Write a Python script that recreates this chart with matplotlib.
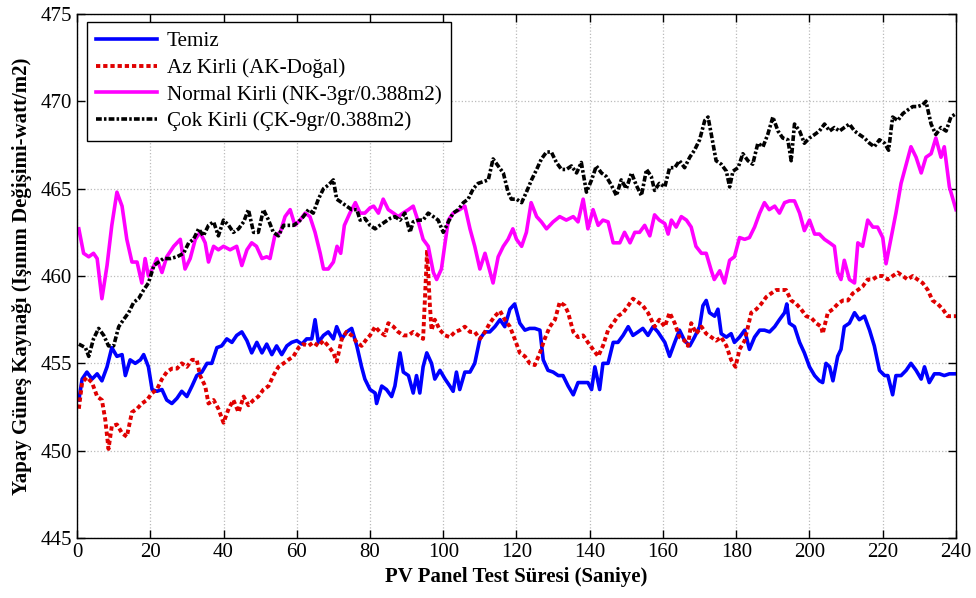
import matplotlib
matplotlib.use("Agg")
from matplotlib import pyplot as plt

# Readings: (time s, irradiance W/m2)
temiz = [(0.5, 452.9), (1.4, 454.1), (2.7, 454.5), (4.1, 454.1), (5.5, 454.4), (6.8, 454.0), (8.2, 454.8),
         (9.5, 455.9), (10.9, 455.4), (12.3, 455.5), (13.2, 454.3), (14.5, 455.2), (15.9, 455.0), (17.3, 455.2),
         (18.2, 455.5), (19.5, 454.8), (20.5, 453.5), (21.8, 453.4), (23.2, 453.5), (24.5, 452.9), (25.9, 452.7),
         (27.3, 453.0), (28.6, 453.4), (30.0, 453.1), (31.4, 453.7), (32.7, 454.3), (34.1, 454.5), (35.5, 455.0),
         (36.8, 455.0), (38.2, 455.9), (39.5, 456.0), (40.9, 456.4), (42.3, 456.2), (43.6, 456.6), (45.0, 456.8),
         (46.4, 456.3), (47.7, 455.6), (49.1, 456.2), (50.5, 455.6), (51.8, 456.1), (53.2, 455.5), (54.5, 456.0),
         (55.9, 455.5), (57.3, 456.0), (58.6, 456.2), (60.0, 456.3), (61.4, 456.1), (62.7, 456.4), (64.1, 456.4),
         (65.0, 457.5), (65.9, 456.2), (67.3, 456.6), (68.6, 456.8), (70.0, 456.4), (70.9, 457.1), (72.3, 456.4),
         (73.6, 456.8), (75.0, 457.0), (76.4, 456.0), (77.7, 454.8), (78.6, 454.1), (80.0, 453.5), (81.4, 453.3),
         (81.8, 452.7), (83.2, 453.7), (84.5, 453.5), (85.9, 453.1), (86.8, 453.7), (88.2, 455.6), (89.1, 454.5),
         (90.5, 454.3), (91.8, 453.3), (92.7, 454.3), (93.6, 453.3), (94.5, 454.8), (95.5, 455.6), (96.8, 455.0),
         (97.7, 454.1), (99.1, 454.6), (100.5, 454.1), (101.8, 453.7), (102.7, 453.4), (103.6, 454.5),
         (104.5, 453.5), (105.9, 454.5), (107.3, 454.5), (108.6, 455.0), (110.0, 456.4), (111.4, 456.8),
         (112.7, 456.8), (114.1, 457.1), (115.5, 457.5), (116.8, 457.1), (118.2, 458.1), (119.5, 458.4),
         (120.9, 457.3), (122.3, 456.9), (123.6, 457.0), (125.0, 457.0), (126.4, 456.9), (127.3, 455.2),
         (128.6, 454.6), (130.0, 454.5), (131.4, 454.3), (132.7, 454.3), (134.1, 453.7), (135.5, 453.2),
         (136.8, 453.9), (138.2, 453.9), (139.5, 453.9), (140.5, 453.5), (141.4, 454.8), (142.7, 453.5),
         (143.6, 455.0), (145.0, 455.0), (146.4, 456.2), (147.7, 456.2), (149.1, 456.6), (150.5, 457.1),
         (151.8, 456.6), (153.2, 456.8), (154.5, 457.0), (155.9, 456.6), (157.3, 457.1), (158.6, 456.8),
         (160.5, 456.2), (161.8, 455.4), (163.2, 456.2), (164.5, 456.9), (165.9, 456.3), (167.3, 456.0),
         (168.6, 456.5), (170.0, 457.1), (170.9, 458.3), (171.8, 458.6), (172.7, 457.9), (174.1, 457.7),
         (175.0, 458.1), (175.9, 456.7), (177.3, 456.5), (178.6, 456.7), (179.5, 456.2), (180.9, 456.5),
         (182.3, 456.9), (183.6, 455.8), (185.0, 456.5), (186.4, 456.9), (187.7, 456.9), (189.1, 456.8),
         (190.5, 457.1), (191.8, 457.5), (193.2, 457.9), (193.8, 458.4), (194.5, 457.3), (195.9, 457.1),
         (197.3, 456.2), (198.6, 455.6), (200.0, 454.8), (201.4, 454.3), (202.7, 454.0), (203.6, 453.9),
         (204.5, 455.0), (205.5, 454.8), (206.4, 454.0), (207.7, 455.4), (208.6, 455.8), (209.5, 457.1),
         (210.9, 457.3), (212.3, 457.9), (213.6, 457.5), (215.0, 457.7), (216.4, 456.9), (217.7, 456.0),
         (219.1, 454.6), (220.5, 454.3), (221.4, 454.3), (222.7, 453.2), (223.6, 454.3), (225.0, 454.3),
         (226.4, 454.6), (227.7, 455.0), (229.1, 454.6), (230.5, 454.1), (231.4, 454.8), (232.7, 453.9),
         (234.1, 454.4), (235.5, 454.4), (236.8, 454.3), (238.2, 454.4), (240.0, 454.4)]

az_kirli = [(0.5, 452.4), (1.4, 453.9), (2.7, 454.2), (4.1, 453.9), (5.5, 453.1), (6.8, 452.9), (7.7, 451.8),
            (8.6, 450.1), (9.5, 451.4), (10.9, 451.5), (12.3, 451.0), (13.6, 450.8), (15.0, 452.2), (16.4, 452.4),
            (17.7, 452.7), (19.1, 452.9), (20.5, 453.3), (21.8, 453.5), (23.2, 454.1), (24.5, 454.5),
            (25.9, 454.7), (27.3, 454.7), (28.6, 455.0), (30.0, 454.8), (31.4, 455.2), (32.7, 455.2),
            (33.6, 454.3), (35.0, 453.7), (35.9, 452.7), (37.3, 452.9), (38.6, 452.4), (40.0, 451.6),
            (41.4, 452.4), (42.7, 452.9), (44.1, 452.2), (45.5, 453.1), (46.8, 452.6), (48.2, 452.9),
            (49.5, 453.1), (50.9, 453.5), (52.3, 453.7), (53.6, 454.3), (55.0, 454.8), (56.4, 455.0),
            (57.7, 455.2), (59.1, 455.4), (60.5, 455.9), (61.8, 456.1), (63.2, 456.0), (64.5, 456.2),
            (65.9, 456.0), (67.3, 456.3), (68.6, 456.0), (70.0, 455.6), (70.9, 455.1), (72.3, 456.4),
            (73.6, 456.8), (75.0, 456.6), (76.4, 456.2), (77.7, 456.0), (79.1, 456.4), (80.0, 456.6),
            (81.4, 457.1), (82.7, 456.8), (84.1, 456.6), (85.0, 457.3), (86.4, 457.1), (87.7, 456.8),
            (89.1, 456.6), (90.5, 456.6), (91.8, 456.8), (93.2, 456.6), (94.5, 456.4), (95.6, 461.5),
            (96.3, 458.5), (96.8, 456.9), (97.7, 457.5), (99.1, 456.9), (100.5, 456.6), (101.8, 456.5),
            (103.2, 456.8), (104.5, 456.9), (105.9, 457.1), (107.3, 456.8), (108.6, 456.8), (110.0, 456.4),
            (111.4, 456.8), (112.7, 457.3), (114.1, 457.7), (115.5, 458.0), (116.8, 457.5), (118.2, 457.1),
            (119.5, 456.4), (120.9, 455.6), (122.3, 455.4), (123.6, 455.0), (125.0, 454.9), (126.4, 455.6),
            (127.7, 456.4), (129.1, 457.1), (130.5, 457.5), (131.8, 458.5), (133.2, 458.3), (134.1, 457.9),
            (135.5, 456.8), (136.8, 456.5), (138.2, 456.6), (139.5, 456.2), (140.9, 455.8), (142.3, 455.4),
            (143.6, 456.0), (145.0, 456.9), (146.4, 457.3), (147.7, 457.7), (149.1, 457.9), (150.5, 458.3),
            (151.8, 458.7), (153.2, 458.5), (154.5, 458.3), (155.9, 457.9), (157.7, 457.1), (159.0, 457.5),
            (160.5, 457.1), (161.8, 457.9), (163.2, 457.3), (164.5, 456.5), (165.9, 456.3), (166.8, 456.0),
            (167.7, 457.3), (169.1, 456.7), (170.5, 457.1), (171.8, 456.7), (173.2, 456.5), (174.5, 456.3),
            (175.9, 456.5), (177.3, 456.0), (178.6, 455.2), (179.8, 454.8), (180.9, 455.8), (182.3, 456.3),
            (183.2, 457.1), (184.1, 457.9), (185.5, 458.1), (186.8, 458.4), (188.2, 458.8), (189.5, 459.0),
            (190.9, 459.2), (192.3, 459.2), (193.6, 459.2), (195.0, 458.6), (196.4, 458.4), (197.7, 458.1),
            (199.1, 457.7), (200.5, 457.6), (201.8, 457.3), (203.2, 457.1), (203.6, 456.7), (205.0, 457.9),
            (206.4, 458.1), (207.7, 458.4), (209.1, 458.6), (210.5, 458.6), (211.8, 459.0), (213.2, 459.2),
            (214.5, 459.4), (215.9, 459.8), (217.3, 459.8), (218.6, 460.0), (220.0, 460.0), (221.4, 459.8),
            (222.7, 460.0), (224.1, 460.2), (225.5, 460.0), (226.8, 459.8), (228.2, 460.0), (229.5, 459.8),
            (230.9, 459.6), (232.3, 459.2), (233.6, 458.6), (235.0, 458.4), (236.4, 458.1), (237.7, 457.7),
            (240.0, 457.7)]

normal_kirli = [(0.5, 462.7), (1.8, 461.3), (3.2, 461.1), (4.5, 461.3), (5.5, 461.0), (6.8, 458.7), (8.2, 460.6),
                (9.5, 462.9), (10.9, 464.8), (12.3, 464.0), (13.6, 462.1), (15.0, 460.8), (16.4, 460.8),
                (17.7, 459.6), (18.6, 461.0), (19.5, 460.0), (21.0, 460.6), (21.8, 461.0), (23.2, 460.2),
                (24.5, 461.1), (26.4, 461.7), (28.2, 462.1), (29.5, 460.4), (30.9, 461.0), (32.3, 462.1),
                (33.6, 462.5), (35.0, 461.9), (35.9, 460.8), (37.3, 461.7), (38.6, 461.5), (40.0, 461.7),
                (41.8, 461.5), (43.6, 461.7), (45.0, 460.6), (46.4, 461.5), (47.7, 461.9), (49.0, 461.7),
                (50.5, 461.0), (51.8, 461.1), (52.7, 461.0), (54.0, 462.3), (55.5, 462.5), (56.8, 463.4),
                (58.2, 463.8), (59.5, 462.9), (60.9, 463.2), (62.3, 463.6), (63.6, 463.4), (65.0, 462.5),
                (66.4, 461.3), (67.3, 460.4), (68.6, 460.4), (70.0, 460.8), (71.0, 461.7), (72.0, 461.3),
                (73.0, 462.9), (74.5, 463.6), (76.0, 464.2), (77.3, 463.6), (78.6, 463.6), (80.0, 463.9),
                (81.0, 464.0), (82.3, 463.6), (83.6, 464.4), (85.0, 463.8), (86.4, 463.6), (87.7, 463.4),
                (89.0, 463.6), (90.5, 463.8), (91.8, 464.0), (93.2, 463.1), (94.5, 462.1), (95.9, 461.7),
                (97.3, 460.2), (98.2, 459.8), (99.5, 460.4), (100.5, 461.9), (101.4, 463.2), (102.7, 463.6),
                (104.5, 463.8), (105.9, 464.0), (107.3, 462.7), (108.6, 461.7), (110.0, 460.4), (111.4, 461.3),
                (112.3, 460.6), (113.6, 459.6), (115.0, 461.1), (116.4, 461.7), (117.7, 462.1), (119.0, 462.7),
                (120.0, 462.1), (121.4, 461.7), (122.7, 462.5), (124.0, 464.2), (125.5, 463.4), (126.8, 463.1),
                (128.2, 462.7), (130.0, 463.1), (131.8, 463.4), (133.6, 463.2), (135.5, 463.4), (136.8, 463.1),
                (138.2, 464.4), (139.5, 462.7), (140.9, 463.8), (142.3, 462.9), (143.6, 463.2), (145.0, 463.1),
                (146.4, 461.9), (148.2, 461.9), (149.5, 462.5), (151.0, 461.9), (152.3, 462.5), (153.6, 462.5),
                (155.0, 462.9), (156.4, 462.3), (157.7, 463.5), (159.0, 463.2), (160.5, 463.0), (161.4, 462.4),
                (162.3, 463.2), (163.6, 462.8), (165.0, 463.4), (166.4, 463.2), (167.7, 462.8), (169.0, 461.7),
                (170.5, 461.3), (171.8, 461.3), (173.2, 460.3), (174.0, 459.8), (175.5, 460.3), (176.8, 459.6),
                (178.2, 460.9), (179.5, 461.1), (180.9, 462.2), (182.3, 462.1), (183.6, 462.2), (185.0, 462.8),
                (186.4, 463.6), (187.7, 464.2), (189.0, 463.8), (190.5, 464.0), (191.8, 463.6), (193.2, 464.2),
                (194.5, 464.3), (195.9, 464.3), (197.3, 463.6), (198.6, 462.6), (200.0, 463.2), (201.4, 462.4),
                (202.7, 462.4), (204.1, 462.1), (205.5, 461.9), (206.8, 461.7), (207.7, 460.2), (208.6, 459.8),
                (209.5, 460.9), (210.9, 459.8), (212.3, 459.6), (213.2, 461.9), (214.5, 461.7), (215.9, 463.2),
                (217.3, 462.8), (218.6, 462.8), (220.0, 462.2), (220.9, 460.7), (222.3, 462.2), (223.6, 463.6),
                (225.0, 465.3), (226.4, 466.4), (227.7, 467.4), (229.1, 466.8), (230.5, 465.9), (231.8, 466.8),
                (233.2, 467.0), (234.5, 467.9), (235.9, 466.8), (236.8, 467.4), (238.2, 465.1), (240.0, 463.8)]

cok_kirli = [(0.5, 456.1), (2.3, 455.9), (3.2, 455.4), (4.5, 456.4), (5.9, 457.0), (7.3, 456.6), (8.6, 456.0),
             (10.0, 456.0), (11.4, 457.1), (12.7, 457.5), (14.1, 457.9), (15.5, 458.5), (16.8, 458.7),
             (18.2, 459.2), (19.5, 459.6), (21.0, 460.6), (22.3, 460.8), (23.6, 461.0), (25.5, 461.0),
             (27.3, 461.1), (29.1, 461.3), (30.5, 461.9), (31.8, 462.1), (33.2, 462.7), (34.5, 462.3),
             (35.9, 462.9), (37.3, 463.1), (38.6, 462.3), (40.0, 463.2), (41.4, 462.9), (42.7, 462.5),
             (44.1, 462.7), (45.5, 463.1), (46.8, 463.8), (48.2, 462.5), (49.5, 462.5), (50.9, 463.8),
             (52.3, 463.2), (53.6, 462.5), (55.0, 462.3), (56.4, 462.9), (57.7, 462.9), (59.1, 462.9),
             (60.5, 463.1), (61.8, 463.4), (63.2, 463.8), (64.5, 463.6), (65.9, 464.4), (67.3, 465.0),
             (68.6, 465.2), (70.0, 465.5), (70.9, 464.4), (72.3, 464.2), (73.6, 464.0), (75.0, 463.8),
             (76.4, 463.8), (77.3, 463.2), (78.6, 463.3), (80.0, 462.9), (81.4, 462.7), (82.7, 462.9),
             (84.1, 463.1), (85.5, 463.3), (86.8, 463.4), (88.2, 463.2), (89.5, 463.6), (90.9, 462.5),
             (91.8, 463.1), (93.2, 463.2), (94.5, 463.2), (95.9, 463.6), (97.3, 463.4), (98.6, 463.2),
             (100.0, 462.5), (101.4, 463.1), (102.7, 463.6), (104.1, 463.8), (105.5, 464.2), (106.8, 464.4),
             (108.2, 465.0), (109.5, 465.3), (110.9, 465.4), (112.3, 465.5), (113.6, 466.7), (115.0, 466.3),
             (116.4, 465.9), (117.7, 464.8), (118.6, 464.4), (120.0, 464.4), (121.4, 464.2), (122.7, 464.8),
             (124.1, 465.5), (125.5, 466.1), (126.8, 466.7), (128.2, 467.1), (129.5, 467.1), (130.9, 466.5),
             (132.3, 466.1), (133.6, 466.1), (135.0, 466.3), (136.4, 465.9), (137.7, 466.5), (139.1, 464.8),
             (140.5, 465.5), (141.8, 466.3), (143.2, 465.9), (144.5, 465.7), (145.9, 465.2), (147.3, 464.6),
             (148.6, 465.5), (150.0, 465.0), (151.4, 465.9), (152.7, 465.2), (154.1, 464.6), (155.5, 466.1),
             (156.8, 465.7), (157.7, 464.9), (159.0, 465.3), (160.5, 465.1), (161.8, 466.2), (163.2, 466.2),
             (164.5, 466.6), (165.9, 466.2), (167.3, 466.8), (168.6, 467.2), (170.0, 467.8), (171.4, 468.9),
             (172.3, 469.1), (173.2, 468.1), (174.5, 466.6), (175.9, 466.4), (177.3, 466.0), (178.2, 465.1),
             (179.1, 466.0), (180.5, 466.2), (181.8, 467.0), (183.2, 466.6), (184.5, 466.4), (185.9, 467.6),
             (187.3, 467.4), (188.6, 468.1), (190.0, 469.1), (191.4, 468.3), (192.7, 467.9), (194.1, 467.8),
             (195.0, 466.6), (195.9, 468.7), (197.3, 468.3), (198.6, 467.6), (200.0, 467.9), (201.4, 468.1),
             (202.7, 468.3), (204.1, 468.7), (205.5, 468.3), (206.8, 468.5), (208.2, 468.3), (209.5, 468.5),
             (210.9, 468.7), (212.3, 468.3), (213.6, 468.1), (215.0, 467.9), (216.4, 467.6), (217.7, 467.4),
             (219.1, 467.8), (220.5, 467.6), (221.6, 467.2), (222.7, 469.1), (224.1, 468.9), (225.5, 469.3),
             (226.8, 469.5), (228.2, 469.7), (229.5, 469.7), (230.9, 469.8), (231.8, 470.0), (233.2, 468.7),
             (234.5, 468.1), (235.9, 468.5), (237.3, 468.3), (238.6, 469.1), (240.0, 469.3)]

labels = ["Temiz", "Az Kirli (AK-Doğal)", "Normal Kirli (NK-3gr/0.388m2)",
          "Çok Kirli (ÇK-9gr/0.388m2)"]
x_ticks = list(range(0, 241, 20))
y_ticks = list(range(445, 476, 5))

plt.rcParams["font.family"] = ["Liberation Serif", "DejaVu Serif"]

fig = plt.figure(figsize=(9.76, 5.98), dpi=100)
ax = fig.add_axes([0.0789, 0.1003, 0.9006, 0.8763])

series = [temiz, az_kirli, normal_kirli, cok_kirli]
styles = [dict(color="#0000ff", linestyle="-", linewidth=2.6),
          dict(color="#e00000", linestyle=(0, (1.1, 0.75)), linewidth=2.8),
          dict(color="#ff00ff", linestyle="-", linewidth=2.6),
          dict(color="black", linestyle=(0, (1.6, 0.6, 0.7, 0.6)), linewidth=2.6)]

for data, lab, st in zip(series, labels, styles):
    t, v = zip(*data)
    ax.plot(t, v, label=lab, **st)

ax.set_xlim(0, 240)
ax.set_ylim(445, 475)
ax.set_xticks(x_ticks)
ax.set_yticks(y_ticks)
ax.tick_params(direction="in", top=True, right=True, labelsize=15, length=6, width=1)
ax.grid(True, linestyle=":", color="#bbbbbb", linewidth=0.9)
for s in ax.spines.values():
    s.set_linewidth(1.0)

ax.set_xlabel("PV Panel Test Süresi (Saniye)", fontsize=15, fontweight="bold", labelpad=4)
ax.set_ylabel("Yapay Güneş Kaynağı (Işınım Değişimi-watt/m2)", fontsize=15,
              fontweight="bold", labelpad=6)

leg = ax.legend(loc="upper left", bbox_to_anchor=(0.006, 0.993), fontsize=15.2, fancybox=False,
                framealpha=1, edgecolor="black", handlelength=2.9, borderaxespad=0.2,
                labelspacing=0.33, handletextpad=0.45, borderpad=0.45)
leg.get_frame().set_linewidth(1.0)

fig.savefig("out.png", dpi=100)
